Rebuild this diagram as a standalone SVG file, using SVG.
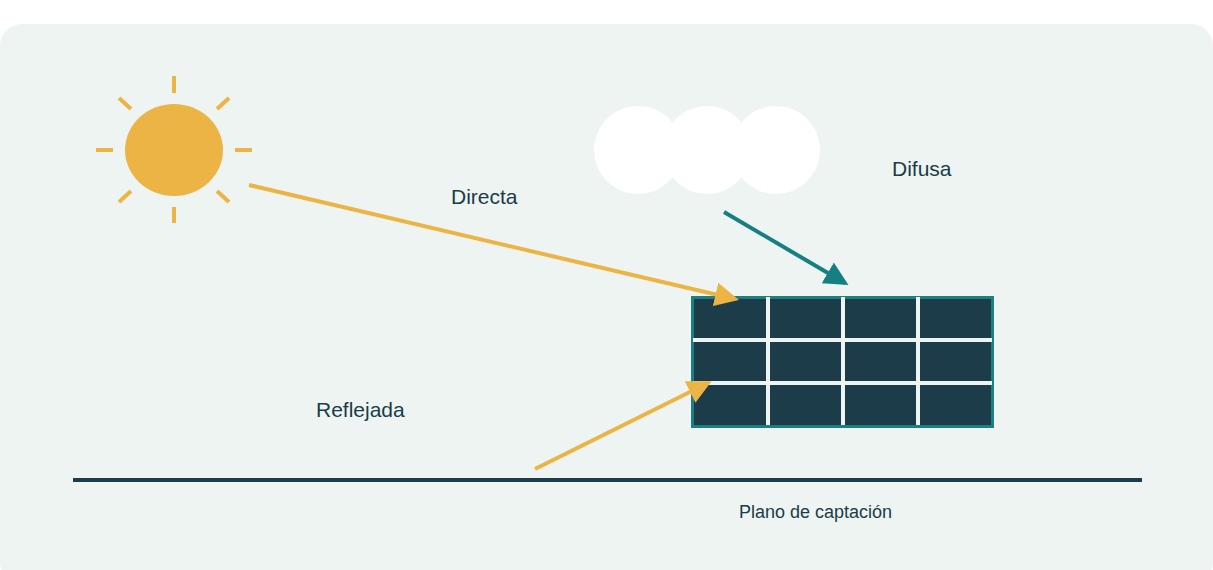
<svg xmlns="http://www.w3.org/2000/svg" width="1213" height="570" viewBox="0 0 1213 570">
<style>
.lbl{font-family:"Liberation Sans",Arial,sans-serif;fill:#1b3c48}
.ray{stroke:#ebb445;stroke-width:4}
.grid{stroke:#eef4f2;stroke-width:4}
</style>
<defs>
<marker id="ay" markerWidth="6" markerHeight="6" refX="5" refY="3" orient="auto" markerUnits="strokeWidth"><path d="M0,0 L6,3 L0,6 z" fill="#ebb445"/></marker>
<marker id="at" markerWidth="6" markerHeight="6" refX="5" refY="3" orient="auto" markerUnits="strokeWidth"><path d="M0,0 L6,3 L0,6 z" fill="#167f82"/></marker>
</defs>
<rect x="0" y="24" width="1213" height="560" rx="22" fill="#eef4f2"/>
<g id="sun">
<ellipse cx="174" cy="150" rx="49" ry="46" fill="#ebb445"/>
<g class="ray">
<line x1="174" y1="76" x2="174" y2="93"/><line x1="174" y1="207" x2="174" y2="223"/>
<line x1="96" y1="150" x2="113" y2="150"/><line x1="235" y1="150" x2="252" y2="150"/>
<line x1="119" y1="98" x2="131" y2="109"/><line x1="229" y1="98" x2="217" y2="109"/>
<line x1="119" y1="202" x2="131" y2="191"/><line x1="229" y1="202" x2="217" y2="191"/>
</g>
</g>
<g id="cloud" fill="#ffffff">
<circle cx="638" cy="150" r="44"/><circle cx="707" cy="150" r="44"/><circle cx="776" cy="150" r="44"/>
</g>
<g id="panel">
<rect x="692.5" y="297.5" width="300" height="129" fill="#1b3c48" stroke="#1a8080" stroke-width="3"/>
<g class="grid">
<line x1="768" y1="297" x2="768" y2="425"/><line x1="843" y1="297" x2="843" y2="425"/><line x1="918" y1="297" x2="918" y2="425"/>
<line x1="693" y1="340" x2="992" y2="340"/><line x1="693" y1="383" x2="992" y2="383"/>
</g>
</g>
<g id="ground"><line x1="73" y1="480" x2="1142" y2="480" stroke="#1b3c48" stroke-width="4"/></g>
<g id="connectors">
<line x1="249" y1="185" x2="735" y2="299" class="ray" marker-end="url(#ay)"/>
<line x1="535" y1="469" x2="708" y2="383" class="ray" marker-end="url(#ay)"/>
<line x1="724" y1="212" x2="845" y2="283" stroke="#167f82" stroke-width="4" marker-end="url(#at)"/>
</g>
<text class="lbl" x="451" y="204" font-size="21">Directa</text>
<text class="lbl" x="892" y="176" font-size="21">Difusa</text>
<text class="lbl" x="316" y="417" font-size="21">Reflejada</text>
<text class="lbl" x="739" y="518" font-size="18">Plano de captación</text>
</svg>
